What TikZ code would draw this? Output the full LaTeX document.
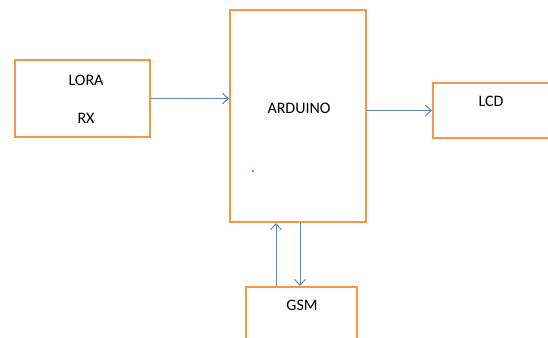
\documentclass[tikz,border=0pt]{standalone}
\usepackage{fontspec}
\setmainfont{Carlito}
\usetikzlibrary{arrows.meta}
\definecolor{boxorange}{HTML}{F79646}
\definecolor{lineblue}{HTML}{5B87C5}
\begin{document}
\begin{tikzpicture}[x=1pt,y=-1pt,
  blk/.style={draw=boxorange,line width=2pt,fill=white,inner sep=0pt,minimum width=#1},
  lbl/.style={font=\fontsize{16}{19}\selectfont,text=black,inner sep=0pt},
  conn/.style={draw=lineblue,line width=1pt,-{Straight Barb[length=6pt,width=11pt]}}]
\useasboundingbox (0,0) rectangle (548,337);
\clip (0,0) rectangle (548,337);
\node[blk=135pt,minimum height=77pt] (lora) at (82.5,98.5) {};
\node[blk=136pt,minimum height=212pt] (ard) at (298,116) {};
\node[blk=127pt,minimum height=55pt] (lcd) at (496.5,110.5) {};
\node[blk=111pt,minimum height=63pt] (gsm) at (301.5,318.5) {};
\node[lbl] (tlora) at (86,80) {LORA};
\node[lbl] (trx) at (86,118) {RX};
\node[lbl] (tard) at (299,108) {ARDUINO};
\node[lbl] (tlcd) at (491,101) {LCD};
\node[lbl] (tgsm) at (302,305) {GSM};
\fill[blue] (253,171) circle (0.8pt);
\draw[conn] (lora.east) -- (ard.west |- lora.east);
\draw[conn] (ard.east |- lcd.west) -- (lcd.west);
\coordinate (gu) at (276,0);
\coordinate (gd) at (300,0);
\draw[conn] (gsm.north -| gu) -- (ard.south -| gu);
\draw[conn] (ard.south -| gd) -- (gsm.north -| gd);
\end{tikzpicture}
\end{document}
